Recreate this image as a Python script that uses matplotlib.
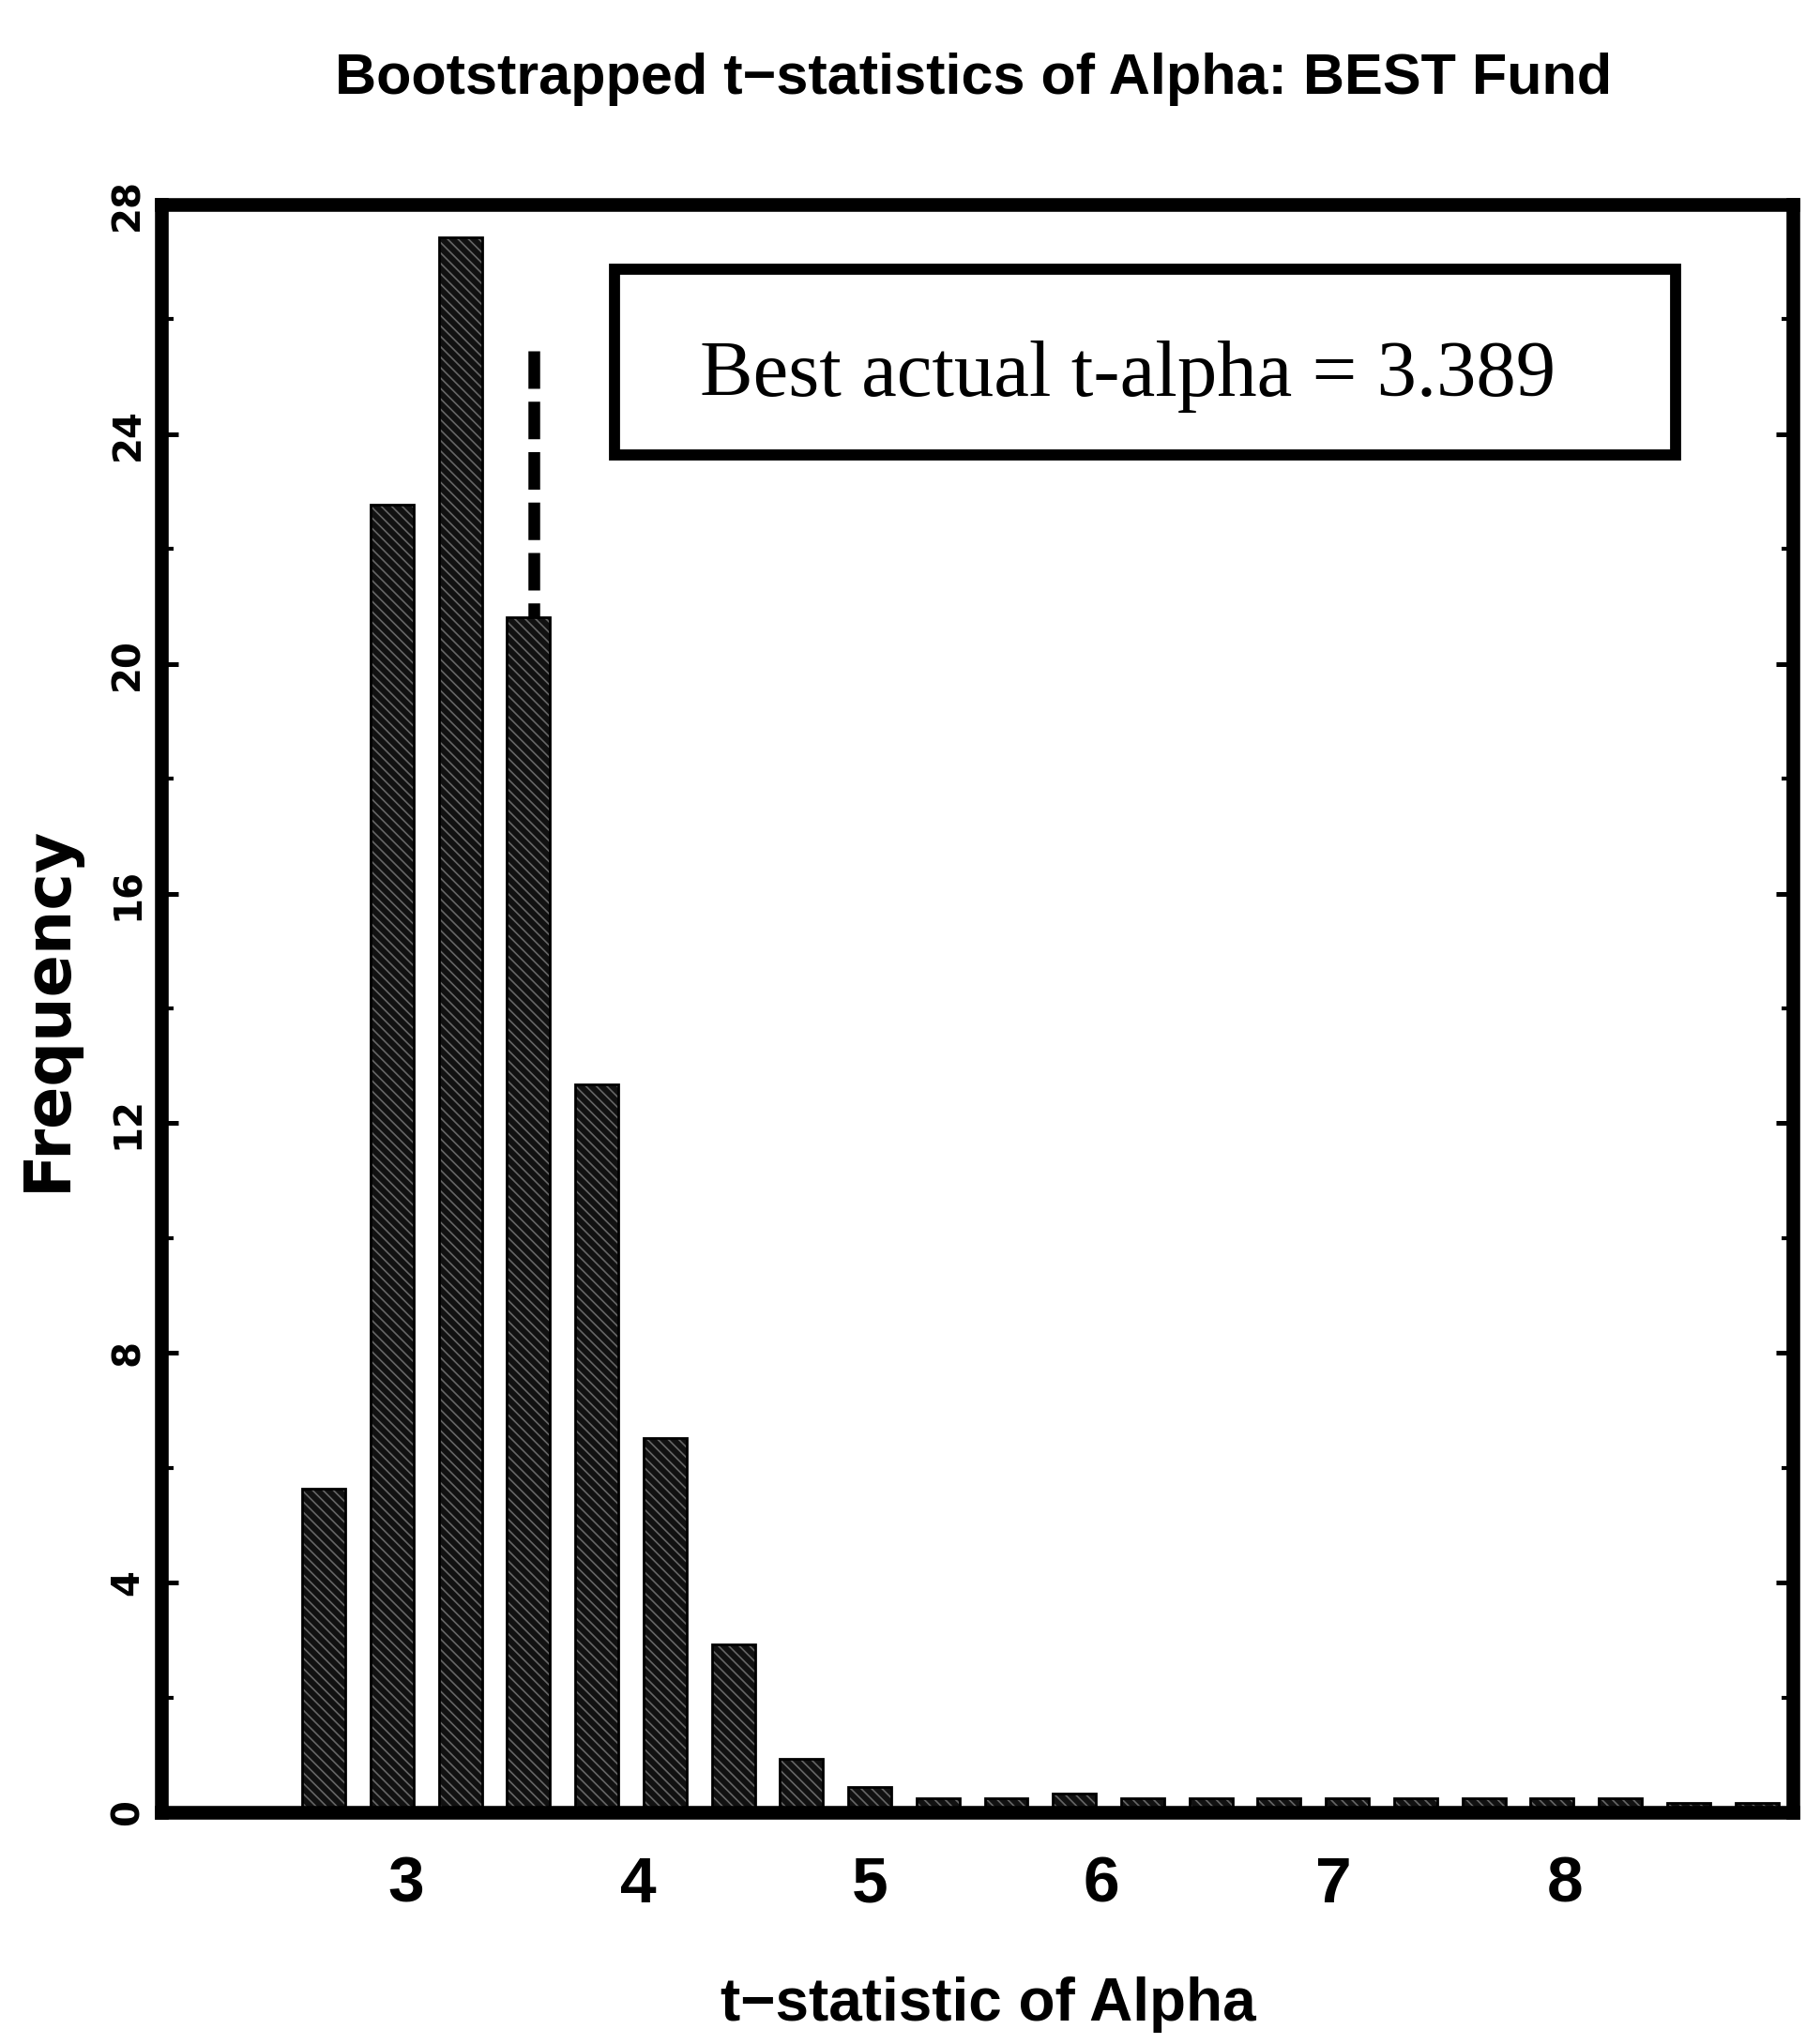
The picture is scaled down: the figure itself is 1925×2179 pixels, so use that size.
import matplotlib
matplotlib.use("Agg")
import matplotlib.pyplot as plt
from matplotlib import font_manager as fm
from matplotlib.patches import Rectangle

# ---------------- data ----------------
bin_centers = [2.644, 2.939, 3.233, 3.528, 3.822, 4.117, 4.411, 4.706, 5.000,
               5.295, 5.589, 5.884, 6.178, 6.473, 6.767, 7.062, 7.356, 7.651,
               7.945, 8.240, 8.534, 8.829]
frequencies = [5.64, 22.77, 27.43, 20.82, 12.67, 6.52, 2.92, 0.93, 0.44,
               0.25, 0.25, 0.33, 0.25, 0.25, 0.25, 0.25, 0.25, 0.25,
               0.25, 0.25, 0.16, 0.16]
best_line_x = 3.551
best_line_top = 25.45
x_ticks = [3, 4, 5, 6, 7, 8]
x_tick_labels = ["3", "4", "5", "6", "7", "8"]
y_ticks = [0, 4, 8, 12, 16, 20, 24, 28]
y_minor_ticks = [2, 6, 10, 14, 18, 22, 26]
title_text = "Bootstrapped t\u2212statistics of Alpha: BEST Fund"
xlabel_text = "t\u2212statistic of Alpha"
ylabel_text = "Frequency"
box_text = "Best actual t-alpha = 3.389"

# ---------------- fonts ----------------
avail = {f.name for f in fm.fontManager.ttflist}
if "Liberation Sans Narrow" in avail:
    NARROW, nscale = "Liberation Sans Narrow", 1.2
else:
    NARROW, nscale = "Liberation Sans", 1.0
NARROW_FAM = [NARROW, "DejaVu Sans"]
WIDE_FAM = ["DejaVu Sans"]
SERIF_FAM = ["Liberation Serif", "DejaVu Serif"]

plt.rcParams["hatch.linewidth"] = 1.2

fig = plt.figure(figsize=(19.25, 21.79), dpi=100)
ax = fig.add_axes([0.08935, 0.11336, 0.90338, 0.78659])

ax.set_xlim(1.943, 8.984)
ax.set_ylim(0, 28)

# dashed vertical line (behind bars), drawn top-down so a full dash sits on top
ax.plot([best_line_x, best_line_x], [best_line_top, 0], color="black",
        lw=9.0, linestyle=(0, (3.2, 1.1)), dash_capstyle="butt", zorder=1)

# bars: dark fill with light hatch texture
ax.bar(bin_centers, frequencies, width=0.186, color="#111111",
       edgecolor="#666666", linewidth=0, hatch="\\\\\\", zorder=2)
ax.bar(bin_centers, frequencies, width=0.186, fill=False,
       edgecolor="black", linewidth=2.0, zorder=3)

# spines
for s in ax.spines.values():
    s.set_linewidth(10.5)
    s.set_color("black")

# ticks
ax.set_xticks(x_ticks)
ax.set_xticklabels(x_tick_labels)
ax.set_yticks(y_ticks)
ax.set_yticks(y_minor_ticks, minor=True)
ax.tick_params(axis="x", which="both", length=0, pad=33)
ax.tick_params(axis="y", which="major", direction="in", left=True, right=True,
               length=13, width=3.6, pad=11)
ax.tick_params(axis="y", which="minor", direction="in", left=True, right=True,
               length=9, width=3.0)
for lab in ax.get_xticklabels():
    lab.set_fontfamily(NARROW_FAM)
    lab.set_fontweight("bold")
    lab.set_fontsize(50 * nscale)
for lab in ax.get_yticklabels():
    lab.set_fontfamily(WIDE_FAM)
    lab.set_fontweight("bold")
    lab.set_fontsize(29)
    lab.set_rotation(90)
    lab.set_verticalalignment("center")

# labels and title
ax.set_xlabel(xlabel_text, family=NARROW_FAM, fontweight="bold",
              fontsize=46 * nscale, va="baseline")
ax.xaxis.set_label_coords(0.5066, -0.1295)
ax.set_ylabel(ylabel_text, family=WIDE_FAM, fontweight="bold",
              fontsize=48, va="center")
ax.yaxis.set_label_coords(-0.0690, 0.5)
ax.set_title(title_text, family=NARROW_FAM, fontweight="bold",
             fontsize=44 * nscale, x=0.498, y=1.0642, va="baseline")

# annotation box
ax.add_patch(Rectangle((0.2777, 0.8442), 0.6504, 0.1155, transform=ax.transAxes,
                       fill=False, edgecolor="black", lw=8.5, zorder=5,
                       clip_on=False))
ax.text(0.5923, 0.8810, box_text, transform=ax.transAxes, ha="center",
        va="baseline", family=SERIF_FAM, fontsize=61, zorder=6)

fig.savefig("out.png", dpi=100)
